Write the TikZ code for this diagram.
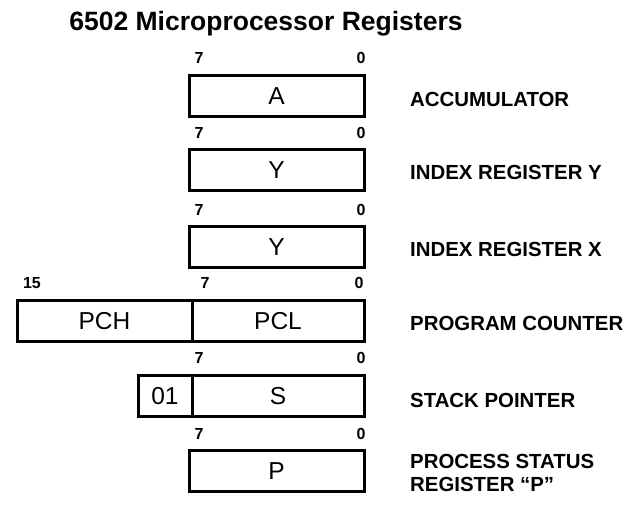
\documentclass[tikz,border=0pt]{standalone}
\usepackage{fontspec}
\setmainfont{Liberation Sans}
\begin{document}
\begin{tikzpicture}[x=1pt,y=-1pt,
  regbox/.style={draw,line width=3pt,inner sep=0pt,minimum height=41pt,font=\fontsize{24.5}{28}\selectfont},
  bitlbl/.style={inner sep=0pt,font=\bfseries\fontsize{16}{18}\selectfont},
  reglbl/.style={anchor=west,inner sep=0pt,align=left,font=\bfseries\fontsize{20.4}{23}\selectfont},
  titlelbl/.style={inner sep=0pt,font=\bfseries\fontsize{26.5}{30}\selectfont}]
\useasboundingbox (0,0) rectangle (641,517);
\node[titlelbl] (title) at (266,24) {6502 Microprocessor Registers};
% A
\node[bitlbl] (a7) at (199,58) {7};
\node[bitlbl] (a0) at (361,58) {0};
\node[regbox,minimum width=175pt] (A) at (276.5,96) {A};
\node[reglbl] (Al) at (410,99) {ACCUMULATOR};
% Y
\node[bitlbl] (y7) at (199,133) {7};
\node[bitlbl] (y0) at (361,133) {0};
\node[regbox,minimum width=175pt] (Y) at (276.5,170) {Y};
\node[reglbl] (Yl) at (410,172) {INDEX REGISTER Y};
% X
\node[bitlbl] (x7) at (199,210) {7};
\node[bitlbl] (x0) at (361,210) {0};
\node[regbox,minimum width=175pt] (X) at (276.5,247) {Y};
\node[reglbl] (Xl) at (410,249) {INDEX REGISTER X};
% PC
\node[bitlbl] (p15) at (32,283) {15};
\node[bitlbl] (p7) at (205,283) {7};
\node[bitlbl] (p0) at (359,283) {0};
\node[regbox,minimum width=172pt] (PCL) at (278,321) {PCL};
\node[regbox,minimum width=175pt] (PCH) at (104.5,321) {PCH};
\node[reglbl] (PCl) at (410,323) {PROGRAM COUNTER};
% S
\node[bitlbl] (s7) at (199,358) {7};
\node[bitlbl] (s0) at (361,358) {0};
\node[regbox,minimum width=172pt] (S) at (278,396) {S};
\node[regbox,minimum width=54pt] (S01) at (165,396) {01};
\node[reglbl] (Sl) at (410,400) {STACK POINTER};
% P
\node[bitlbl] (st7) at (199,434) {7};
\node[bitlbl] (st0) at (361,434) {0};
\node[regbox,minimum width=175pt] (P) at (276.5,471) {P};
\node[reglbl] (Pl) at (410,473) {PROCESS STATUS\\REGISTER “P”};
\end{tikzpicture}
\end{document}
